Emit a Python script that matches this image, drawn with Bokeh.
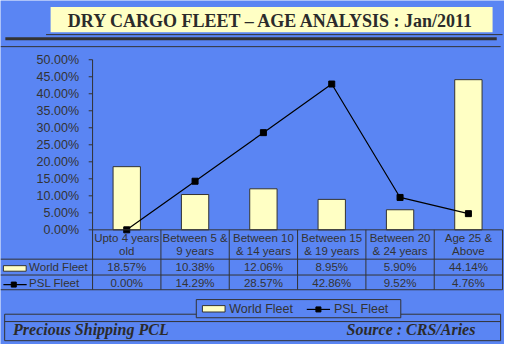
from bokeh.plotting import figure
from bokeh.models import Range1d
from bokeh.core.properties import value
from bokeh.embed import file_html
from bokeh.resources import INLINE

# ---------------- data ----------------
header_line1 = ["Upto 4 years", "Between 5 &", "Between 10", "Between 15", "Between 20", "Age 25 &"]
header_line2 = ["old", "9 years", "& 14 years", "& 19 years", "& 24 years", "Above"]
world_fleet = [18.57, 10.38, 12.06, 8.95, 5.90, 44.14]
psl_fleet = [0.00, 14.29, 28.57, 42.86, 9.52, 4.76]
y_ticks = [0, 5, 10, 15, 20, 25, 30, 35, 40, 45, 50]
y_tick_labels = ["0.00%", "5.00%", "10.00%", "15.00%", "20.00%", "25.00%",
                 "30.00%", "35.00%", "40.00%", "45.00%", "50.00%"]
series_names = ["World Fleet", "PSL Fleet"]
title_text = "DRY CARGO FLEET \u2013 AGE ANALYSIS : Jan/2011"
footer_left = "Precious Shipping PCL"
footer_right = "Source : CRS/Aries"

BG = "#5A85F3"
YEL = "#FFFFC4"
DARK = "#333333"
SANS = value("Liberation Sans")
SERIF = value("Liberation Serif")

idx = list(range(len(world_fleet)))

# layout helpers (reference pixel -> data units)
def DX(X):
    return (X - 95.0) / 70.5 - 0.5

def DY(Y):
    return (240.0 - Y) / 3.56

p = figure(width=504, height=344, output_backend="svg", toolbar_location=None,
           x_range=Range1d(DX(0), DX(520)), y_range=Range1d(DY(360), DY(0)),
           x_axis_location=None, y_axis_location=None, min_border=0,
           background_fill_color=BG, border_fill_color=BG, outline_line_color=None)
p.grid.visible = False

# ---- title box ----
p.quad(left=[DX(51.7)], right=[DX(507.7)], top=[DY(6.7)], bottom=[DY(33.3)],
       fill_color=YEL, line_color=None)
p.text(x=[DX(279.5)], y=[DY(21.5)], text=[title_text], text_align="center",
       text_baseline="middle", text_font=SERIF, text_font_style="bold",
       text_font_size="18px", text_color="#2b2b2b")
p.segment(x0=[DX(47)], y0=[DY(35.7)], x1=[DX(518)], y1=[DY(35.7)], line_color=DARK, line_width=1)
p.segment(x0=[DX(5)], y0=[DY(40)], x1=[DX(512)], y1=[DY(40)], line_color=DARK, line_width=3)
p.segment(x0=[DX(0)], y0=[DY(48.3)], x1=[DX(516)], y1=[DY(48.3)], line_color=DARK, line_width=1)

# ---- y axis (manual) ----
p.segment(x0=[DX(95)], y0=[50], x1=[DX(95)], y1=[0], line_color=DARK, line_width=1)
p.segment(x0=[DX(91)] * len(y_ticks), y0=y_ticks, x1=[DX(95)] * len(y_ticks), y1=y_ticks,
          line_color=DARK, line_width=1)
p.text(x=[DX(81)] * len(y_ticks), y=y_ticks, text=y_tick_labels, text_align="right",
       text_baseline="middle", text_font=SANS, text_font_size="12.5px", text_color=DARK)

# ---- bars & line ----
p.vbar(x=idx, top=world_fleet, bottom=0, width=0.4, fill_color=YEL,
       line_color=DARK, line_width=1)
p.line(idx, psl_fleet, line_color="black", line_width=1.2)
p.scatter(idx, psl_fleet, marker="square", size=6, fill_color="black", line_color="black")

# ---- data table ----
n = len(idx)
col_edges = [DX(95 + 70.5 * i) for i in range(n + 1)]
row_ys = [DY(270.7), DY(287.3), DY(302.7)]
p.segment(x0=[DX(95)], y0=[0], x1=[DX(518)], y1=[0], line_color=DARK, line_width=1)
p.segment(x0=[DX(0)] * 3, y0=row_ys, x1=[DX(518)] * 3, y1=row_ys, line_color=DARK, line_width=1)
p.segment(x0=col_edges, y0=[0] * (n + 1), x1=col_edges, y1=[DY(302.7)] * (n + 1),
          line_color=DARK, line_width=1)
p.text(x=idx, y=[DY(249)] * n, text=header_line1, text_align="center", text_baseline="middle",
       text_font=SANS, text_font_size="11.5px", text_color=DARK)
p.text(x=idx, y=[DY(261.7)] * n, text=header_line2, text_align="center", text_baseline="middle",
       text_font=SANS, text_font_size="11.5px", text_color=DARK)
p.text(x=idx, y=[DY(279.3)] * n, text=[f"{v:.2f}%" for v in world_fleet], text_align="center",
       text_baseline="middle", text_font=SANS, text_font_size="11.5px", text_color=DARK)
p.text(x=idx, y=[DY(295.3)] * n, text=[f"{v:.2f}%" for v in psl_fleet], text_align="center",
       text_baseline="middle", text_font=SANS, text_font_size="11.5px", text_color=DARK)

# row legend keys
p.quad(left=[DX(3)], right=[DX(26.5)], top=[DY(277.5)], bottom=[DY(283.3)],
       fill_color=YEL, line_color=DARK, line_width=1)
p.segment(x0=[DX(3)], y0=[DY(297.3)], x1=[DX(27)], y1=[DY(297.3)], line_color="black", line_width=1.2)
p.scatter([DX(13.7)], [DY(297.3)], marker="square", size=5, fill_color="black", line_color="black")
p.text(x=[DX(29.5)] * 2, y=[DY(279.3), DY(295.3)], text=series_names, text_align="left",
       text_baseline="middle", text_font=SANS, text_font_size="11.5px", text_color=DARK)

# ---- footer box ----
p.quad(left=[DX(4.3)], right=[DX(516)], top=[DY(328.3)], bottom=[DY(356)],
       fill_color=None, line_color=DARK, line_width=1)
p.segment(x0=[DX(4.3)], y0=[DY(336)], x1=[DX(516)], y1=[DY(336)], line_color=DARK, line_width=1)
p.text(x=[DX(13)], y=[DY(344.5)], text=[footer_left], text_align="left", text_baseline="middle",
       text_font=SERIF, text_font_style="bold italic", text_font_size="16px", text_color="#2b2b2b")
p.text(x=[DX(490)], y=[DY(344.5)], text=[footer_right], text_align="right", text_baseline="middle",
       text_font=SERIF, text_font_style="bold italic", text_font_size="16px", text_color="#2b2b2b")

# ---- bottom legend ----
p.quad(left=[DX(202)], right=[DX(413)], top=[DY(313)], bottom=[DY(332)],
       fill_color=BG, line_color=DARK, line_width=1)
p.quad(left=[DX(208.3)], right=[DX(231.7)], top=[DY(319.3)], bottom=[DY(326)],
       fill_color=YEL, line_color=DARK, line_width=1)
p.segment(x0=[DX(316)], y0=[DY(323.3)], x1=[DX(340)], y1=[DY(323.3)], line_color="black", line_width=1.2)
p.scatter([DX(328)], [DY(323.3)], marker="square", size=5, fill_color="black", line_color="black")
p.text(x=[DX(236), DX(344)], y=[DY(322.7)] * 2, text=series_names, text_align="left",
       text_baseline="middle", text_font=SANS, text_font_size="12.5px", text_color=DARK)

open("out.html", "w").write(file_html(p, INLINE))
